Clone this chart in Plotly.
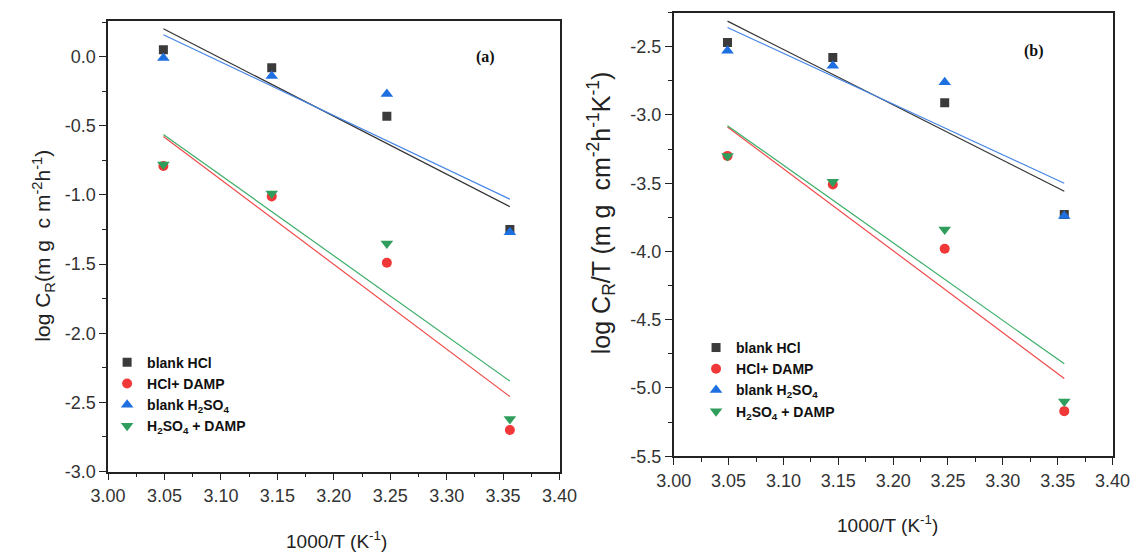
import numpy as np
import plotly.graph_objects as go

# 1000/T (K^-1) for the four test temperatures
inv_temp = [3.049, 3.145, 3.247, 3.356]

# (a) log CR
blank_hcl_a = [0.05, -0.08, -0.43, -1.25]
hcl_damp_a = [-0.79, -1.01, -1.49, -2.70]
blank_h2so4_a = [-0.01, -0.14, -0.27, -1.27]
h2so4_damp_a = [-0.78, -0.99, -1.35, -2.62]

# (b) log CR/T
blank_hcl_b = [-2.47, -2.58, -2.91, -3.73]
hcl_damp_b = [-3.30, -3.51, -3.98, -5.17]
blank_h2so4_b = [-2.53, -2.64, -2.76, -3.74]
h2so4_damp_b = [-3.30, -3.49, -3.84, -5.10]

series_names = ["blank HCl", "HCl+ DAMP", "blank H<sub>2</sub>SO<sub>4</sub>",
                "H<sub>2</sub>SO<sub>4</sub> + DAMP"]

x_ticks = [3.00, 3.05, 3.10, 3.15, 3.20, 3.25, 3.30, 3.35, 3.40]
x_ticktext = ["3.00", "3.05", "3.10", "3.15", "3.20", "3.25", "3.30", "3.35", "3.40"]
ya_ticks = [0.0, -0.5, -1.0, -1.5, -2.0, -2.5, -3.0]
ya_ticktext = ["0.0", "-0.5", "-1.0", "-1.5", "-2.0", "-2.5", "-3.0"]
yb_ticks = [-2.5, -3.0, -3.5, -4.0, -4.5, -5.0, -5.5]
yb_ticktext = ["-2.5", "-3.0", "-3.5", "-4.0", "-4.5", "-5.0", "-5.5"]

marker_styles = [
    dict(symbol="square", size=9, color="#3b3b3b"),
    dict(symbol="circle", size=10, color="#f03838"),
    dict(symbol="triangle-up", size=11, color="#1e6fe0"),
    dict(symbol="triangle-down", size=11, color="#2f9e5c"),
]
line_colors = ["#333333", "#f04a4a", "#4585e6", "#3aae68"]

fig = go.Figure()

panels = [
    ("x", "y", "legend", [blank_hcl_a, hcl_damp_a, blank_h2so4_a, h2so4_damp_a]),
    ("x2", "y2", "legend2", [blank_hcl_b, hcl_damp_b, blank_h2so4_b, h2so4_damp_b]),
]

xs = np.array(inv_temp)
for xref, yref, leg, series in panels:
    # least-squares Arrhenius fit lines
    for vals, col in zip(series, line_colors):
        slope, icpt = np.polyfit(xs, np.array(vals), 1)
        xf = [inv_temp[0], inv_temp[-1]]
        fig.add_trace(go.Scatter(
            x=xf, y=[slope * v + icpt for v in xf], mode="lines",
            line=dict(color=col, width=1.2), showlegend=False,
            xaxis=xref, yaxis=yref, hoverinfo="skip"))
    for vals, name, mk in zip(series, series_names, marker_styles):
        fig.add_trace(go.Scatter(
            x=inv_temp, y=vals, mode="markers", name=name, marker=mk,
            xaxis=xref, yaxis=yref, legend=leg))

tick_font = dict(family="Liberation Sans Narrow, Arial Narrow, Liberation Sans, Arial",
                 size=18, color="#333333")
axis_common = dict(showline=True, linewidth=1.5, linecolor="#222222", mirror=True,
                   ticks="outside", ticklen=7, tickwidth=1.3, tickcolor="#222222",
                   showgrid=False, zeroline=False, tickfont=tick_font)

legend_font = dict(family="Liberation Sans, Arial", size=14, color="#111111", weight="bold")

fig.update_layout(
    width=1148, height=557,
    margin=dict(l=0, r=0, t=0, b=0),
    paper_bgcolor="white", plot_bgcolor="white",
    xaxis=dict(domain=[0.081, 0.487], range=[3.0, 3.4], anchor="y",
               tickvals=x_ticks, ticktext=x_ticktext,
               minor=dict(dtick=0.025, ticks="outside", ticklen=4, tickcolor="#222222"),
               **axis_common),
    yaxis=dict(domain=[0.138, 0.962], range=[-3.0, 0.26], anchor="x",
               tickvals=ya_ticks, ticktext=ya_ticktext,
               minor=dict(dtick=0.25, ticks="outside", ticklen=4, tickcolor="#222222"),
               **axis_common),
    xaxis2=dict(domain=[0.5897, 0.9843], range=[3.0, 3.4], anchor="y2",
                tickvals=x_ticks, ticktext=x_ticktext,
                minor=dict(dtick=0.025, ticks="outside", ticklen=4, tickcolor="#222222"),
                **axis_common),
    yaxis2=dict(domain=[0.166, 0.977], range=[-5.5, -2.25], anchor="x2",
                tickvals=yb_ticks, ticktext=yb_ticktext,
                minor=dict(dtick=0.25, ticks="outside", ticklen=4, tickcolor="#222222"),
                **axis_common),
    legend=dict(x=92 / 1148, y=1 - 353 / 557, xanchor="left", yanchor="top",
                bgcolor="rgba(0,0,0,0)", tracegroupgap=0, font=legend_font),
    legend2=dict(x=700 / 1148, y=1 - 338 / 557, xanchor="left", yanchor="top",
                 bgcolor="rgba(0,0,0,0)", tracegroupgap=0, font=legend_font),
    showlegend=True,
)

title_font = dict(family="Liberation Sans, Arial", size=19, color="#222222")
annotations = [
    dict(text="(a)", x=483 / 1148, y=1 - 58 / 557,
         font=dict(family="Liberation Serif, Times New Roman", size=16, color="#111111",
                   weight="bold")),
    dict(text="(b)", x=1049 / 1148, y=1 - 52 / 557,
         font=dict(family="Liberation Serif, Times New Roman", size=16, color="#111111",
                   weight="bold")),
    dict(text="1000/T (K<sup>-1</sup>)", x=329 / 1148, y=1 - 550 / 557, font=title_font),
    dict(text="1000/T (K<sup>-1</sup>)", x=898 / 1148, y=1 - 534 / 557, font=title_font),
    dict(text="log C<sub>R</sub>(m g  c m<sup>-2</sup>h<sup>-1</sup>)", x=26 / 1148,
         y=1 - 250 / 557, textangle=-90, font=dict(family="Liberation Sans, Arial",
                                                    size=21, color="#222222")),
    dict(text="log C<sub>R</sub>/T (m g  cm<sup>-2</sup>h<sup>-1</sup>K<sup>-1</sup>)",
         x=602 / 1148, y=1 - 217 / 557, textangle=-90,
         font=dict(family="Liberation Sans, Arial", size=25, color="#222222")),
]
for a in annotations:
    fig.add_annotation(xref="paper", yref="paper", showarrow=False,
                       xanchor="center", yanchor="middle", **a)

fig.write_html("out.html")
